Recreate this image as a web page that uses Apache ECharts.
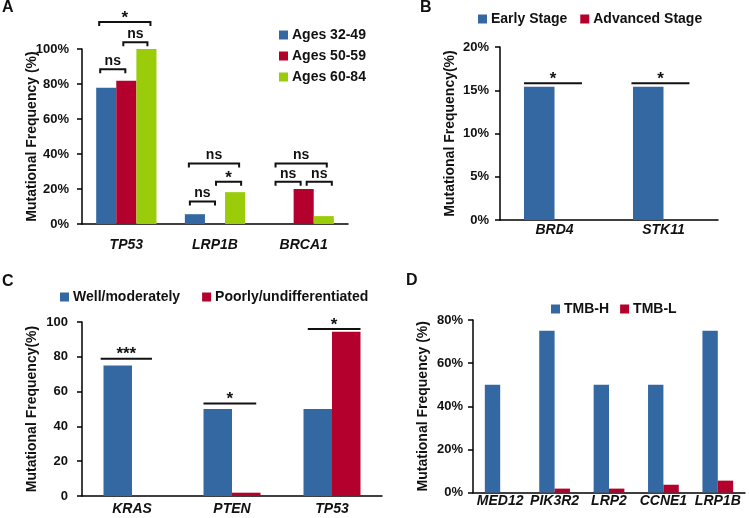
<!DOCTYPE html>
<html>
<head>
<meta charset="utf-8">
<script src="https://cdn.jsdelivr.net/npm/echarts@6/dist/echarts.min.js"></script>
<style>
  html, body { margin: 0; padding: 0; background: #fff; }
  #chart { width: 749px; height: 518px; }
</style>
</head>
<body>
<div id="chart"></div>
<script>
// ---- data ----
// A: age groups
var catsA = ['TP53', 'LRP1B', 'BRCA1'];
var namesA = ['Ages 32-49', 'Ages 50-59', 'Ages 60-84'];
var age3249 = [77.8, 5.6, 0];
var age5059 = [81.8, 0, 20];
var age6084 = [100, 18.2, 4.5];
// significance: [category, level, fromBar, toBar]
var sigA = [[0, 88.4, -0.3, 0.95], [0, 103.8, 0.85, 2.05], [0, 115.4, -0.35, 2.2],
            [1, 34.6, -0.3, 2.2], [1, 24.1, 1.05, 2.3], [1, 12.9, -0.25, 1.0],
            [2, 34.6, -0.4, 2.15], [2, 24.1, -0.4, 0.85], [2, 24.1, 1.15, 2.4]];
var sigALabels = ['ns', 'ns', '*', 'ns', '*', 'ns', 'ns', 'ns', 'ns'];

// B: stage
var catsB = ['BRD4', 'STK11'];
var namesB = ['Early Stage', 'Advanced Stage'];
var earlyStage = [15.4, 15.4];
var advancedStage = [0, 0];
var sigB = [[0, 15.8, -0.5, 1.4], [1, 15.8, -0.55, 1.35]];
var sigBLabels = ['*', '*'];

// C: differentiation
var catsC = ['KRAS', 'PTEN', 'TP53'];
var namesC = ['Well/moderately', 'Poorly/undifferentiated'];
var wellMod = [75, 50, 50];
var poorlyUndiff = [0, 1.9, 94.4];
var sigC = [[0, 78.9, -0.6, 1.2], [1, 53.2, -0.5, 1.35], [2, 96.0, -0.35, 1.5]];
var sigCLabels = ['***', '*', '*'];

// D: TMB
var catsD = ['MED12', 'PIK3R2', 'LRP2', 'CCNE1', 'LRP1B'];
var namesD = ['TMB-H', 'TMB-L'];
var tmbH = [50, 75, 50, 50, 75];
var tmbL = [0, 1.8, 1.8, 3.6, 5.5];

var BLUE = '#3468A3', RED = '#B3002C', GREEN = '#9ACC0A';
var FONT = "'Liberation Sans', Arial, sans-serif";

var chart = echarts.init(document.getElementById('chart'));

function xAx(grid, cats, margin) {
    return {
        type: 'category', gridIndex: grid, data: cats,
        axisLine: { lineStyle: { color: '#000', width: 1.5 } },
        axisTick: { length: 5, lineStyle: { color: '#000', width: 1.5 } },
        axisLabel: { interval: 0, fontFamily: FONT, fontSize: 14, fontWeight: 'bold', fontStyle: 'italic',
                     color: '#111', margin: margin }
    };
}
function yAx(grid, max, step, name, pct, margin) {
    return {
        type: 'value', gridIndex: grid, min: 0, max: max, interval: step,
        name: name, nameLocation: 'middle', nameGap: 43, nameMoveOverlap: false,
        nameTextStyle: { fontFamily: FONT, fontSize: 14, fontWeight: 'bold', color: '#111' },
        splitLine: { show: false },
        axisLine: { show: true, lineStyle: { color: '#000', width: 1.5 } },
        axisTick: { show: true, length: 5, lineStyle: { color: '#000', width: 1.5 } },
        axisLabel: { fontFamily: FONT, fontSize: 13, fontWeight: 'bold', color: '#111', margin: margin,
                     formatter: pct ? '{value}%' : '{value}' }
    };
}
function bar(name, grid, data, color, gap) {
    return {
        name: name, type: 'bar', xAxisIndex: grid, yAxisIndex: grid, data: data,
        barGap: '0%', barCategoryGap: (gap * 100) + '%',
        itemStyle: { color: color }
    };
}
// brackets / lines for significance, placed with the axis scales
function sig(grid, rows, labels, nBars, gap, ends) {
    return {
        type: 'custom', xAxisIndex: grid, yAxisIndex: grid, clip: false, silent: true,
        encode: { x: 0, y: 1 },
        data: rows,
        renderItem: function (params, api) {
            var c = api.coord([api.value(0), api.value(1)]);
            var band = api.size([1, 0])[0];
            var bw = band * (1 - gap) / nBars;
            var off = (nBars - 1) / 2;
            var x1 = c[0] + (api.value(2) - off) * bw;
            var x2 = c[0] + (api.value(3) - off) * bw;
            var y = c[1];
            var pts = ends ? [[x1, y + 4], [x1, y], [x2, y], [x2, y + 4]] : [[x1, y], [x2, y]];
            var txt = labels[params.dataIndex];
            var isStar = txt.indexOf('*') >= 0;
            return {
                type: 'group',
                children: [
                    { type: 'polyline', shape: { points: pts },
                      style: { stroke: '#111', lineWidth: 2, fill: null } },
                    { type: 'text', x: (x1 + x2) / 2, y: isStar ? y - 4 : y - 1,
                      style: { text: txt, fill: '#111',
                               font: 'bold ' + (isStar ? 17 : 14) + 'px ' + FONT,
                               align: 'center', textAlign: 'center',
                               verticalAlign: isStar ? 'middle' : 'bottom',
                               textVerticalAlign: isStar ? 'middle' : 'bottom' } }
                ]
            };
        }
    };
}
function legend(names, opts) {
    var l = {
        data: names, icon: 'rect', itemWidth: 9, itemHeight: 9, selectedMode: false,
        padding: 0,
        textStyle: { fontFamily: FONT, fontSize: 14, fontWeight: 'bold', color: '#111', padding: [0, 0, 0, -1] }
    };
    for (var k in opts) l[k] = opts[k];
    return l;
}
function letter(t, left, top) {
    return { text: t, left: left, top: top, padding: 0,
             textStyle: { fontFamily: FONT, fontSize: 16, fontWeight: 'bold', color: '#111' } };
}

var option = {
    animation: false,
    backgroundColor: '#fff',
    title: [letter('A', 2, 0), letter('B', 420, 0), letter('C', 2, 274), letter('D', 406, 273)],
    legend: [
        legend(namesA, { orient: 'vertical', left: 279, top: 28, itemGap: 7 }),
        legend(namesB, { left: 478, top: 12, itemGap: 13 }),
        legend(namesC, { left: 60, top: 290, itemGap: 22 }),
        legend(namesD, { left: 551, top: 302, itemGap: 11 })
    ],
    grid: [
        { left: 82, top: 49, width: 266, height: 175 },
        { left: 500, top: 47, width: 218, height: 173 },
        { left: 82, top: 322, width: 300, height: 174 },
        { left: 473, top: 320, width: 272, height: 172.5 }
    ],
    xAxis: [xAx(0, catsA, 14), xAx(1, catsB, 3), xAx(2, catsC, 6), xAx(3, catsD, 2)],
    yAxis: [
        yAx(0, 100, 20, 'Mutational Frequency (%)', true, 13),
        yAx(1, 20, 5, 'Mutational Frequency(%)', true, 11),
        yAx(2, 100, 20, 'Mutational Frequency(%)', false, 14),
        yAx(3, 80, 20, 'Mutational Frequency (%)', true, 10)
    ],
    series: [
        bar(namesA[0], 0, age3249, BLUE, 0.32),
        bar(namesA[1], 0, age5059, RED, 0.32),
        bar(namesA[2], 0, age6084, GREEN, 0.32),
        sig(0, sigA, sigALabels, 3, 0.32, true),
        bar(namesB[0], 1, earlyStage, BLUE, 0.44),
        bar(namesB[1], 1, advancedStage, RED, 0.44),
        sig(1, sigB, sigBLabels, 2, 0.44, false),
        bar(namesC[0], 2, wellMod, BLUE, 0.43),
        bar(namesC[1], 2, poorlyUndiff, RED, 0.43),
        sig(2, sigC, sigCLabels, 2, 0.43, false),
        bar(namesD[0], 3, tmbH, BLUE, 0.435),
        bar(namesD[1], 3, tmbL, RED, 0.435)
    ]
};
chart.setOption(option);
</script>
</body>
</html>
